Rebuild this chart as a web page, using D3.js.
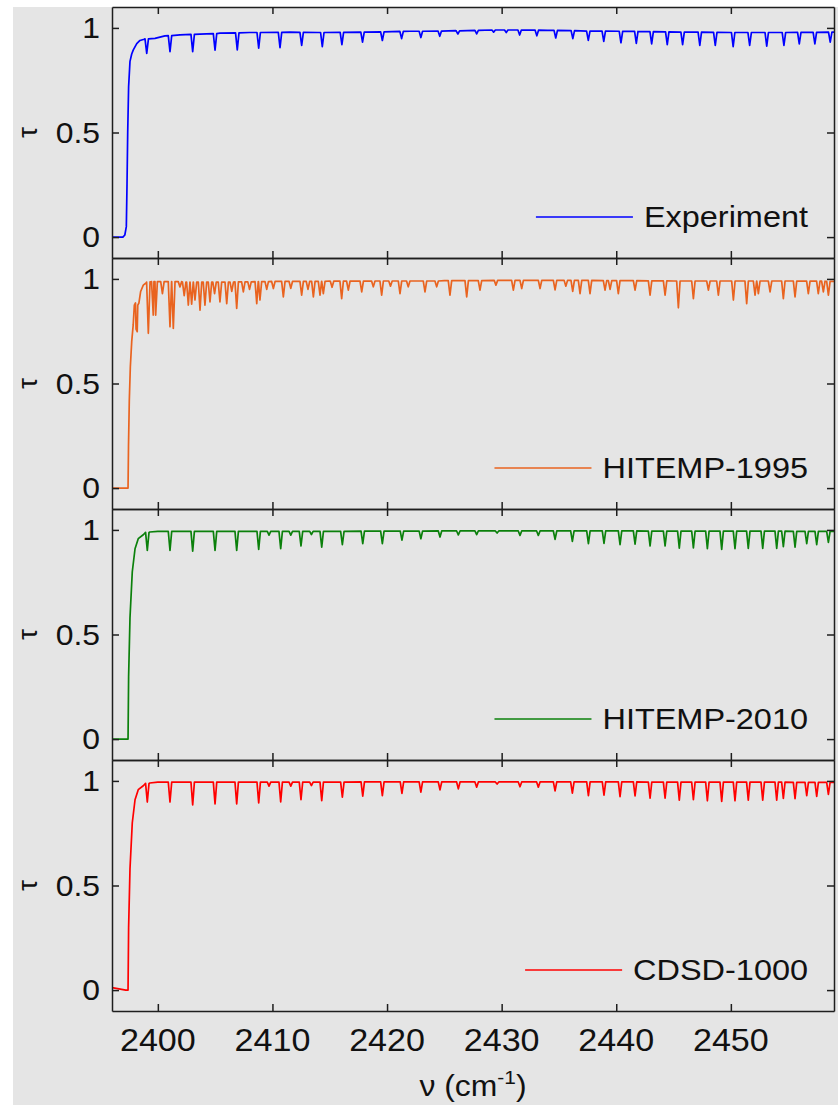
<!DOCTYPE html>
<html>
<head>
<meta charset="utf-8">
<script src="https://cdn.jsdelivr.net/npm/d3@7"></script>
<style>
  body { margin: 0; background: #ffffff; }
  svg { display: block; }
  text { font-family: "Liberation Sans", Arial, Helvetica, sans-serif; fill: #111111; }
</style>
</head>
<body>
<svg id="chart" width="838" height="1105"></svg>
<script>
// ---- axis ticks -------------------------------------------------------
const nuTicks = [2400, 2410, 2420, 2430, 2440, 2450];
const tauTicks = [0, 0.5, 1];
const tauTickLabels = ["0", "0.5", "1"];

// ---- spectra: smooth envelope [nu, tau] and absorption lines [nu, shoulder tau, minimum tau]
const experimentEnvelope = [
  [2396.0, 0.0], [2396.95, 0.0], [2397.12, 0.01], [2397.25, 0.05], [2397.31, 0.25],
  [2397.37, 0.5], [2397.45, 0.72], [2397.57, 0.84], [2397.72, 0.875], [2397.86, 0.895],
  [2398.16, 0.925], [2398.44, 0.94], [2398.8, 0.946], [2399.75, 0.95], [2400.62, 0.962],
  [2401.93, 0.967], [2403.68, 0.97], [2405.42, 0.975], [2408.0, 0.978], [2411.53, 0.98],
  [2414.0, 0.978], [2418.0, 0.98], [2422.0, 0.984], [2426.0, 0.987], [2430.0, 0.99],
  [2434.0, 0.988], [2438.0, 0.985], [2442.0, 0.982], [2446.0, 0.98], [2450.0, 0.978],
  [2454.0, 0.978], [2459.0, 0.98]
];
const experimentLines = [
  [2399.03, 0.948, 0.878], [2401.06, 0.963, 0.886], [2403.04, 0.969, 0.887],
  [2404.99, 0.973, 0.894], [2406.93, 0.976, 0.895], [2408.80, 0.978, 0.903],
  [2410.66, 0.979, 0.906], [2412.55, 0.979, 0.916], [2414.35, 0.978, 0.911],
  [2416.06, 0.979, 0.920], [2417.86, 0.980, 0.932], [2419.59, 0.981, 0.940],
  [2421.27, 0.983, 0.949], [2422.95, 0.984, 0.954], [2424.60, 0.985, 0.960],
  [2426.18, 0.986, 0.971], [2427.82, 0.988, 0.972], [2429.30, 0.990, 0.980],
  [2430.40, 0.990, 0.978], [2431.57, 0.990, 0.966], [2433.07, 0.989, 0.962],
  [2434.72, 0.988, 0.952], [2436.21, 0.987, 0.949], [2437.56, 0.985, 0.940],
  [2438.91, 0.985, 0.936], [2440.41, 0.984, 0.929], [2441.75, 0.983, 0.926],
  [2443.09, 0.982, 0.924], [2444.45, 0.981, 0.920], [2445.79, 0.980, 0.920],
  [2447.29, 0.980, 0.916], [2448.64, 0.979, 0.916], [2450.20, 0.978, 0.911],
  [2451.64, 0.978, 0.916], [2453.13, 0.978, 0.913], [2454.63, 0.978, 0.916],
  [2455.97, 0.979, 0.924], [2457.33, 0.979, 0.924], [2458.67, 0.980, 0.932]
];

const hitemp1995Envelope = [
  [2396.0, 0.0], [2397.40, 0.0], [2397.44, 0.2], [2397.51, 0.42], [2397.60, 0.58],
  [2397.72, 0.70], [2397.85, 0.78], [2398.01, 0.86], [2398.29, 0.906], [2398.50, 0.94],
  [2398.73, 0.97], [2399.0, 0.982], [2399.32, 0.986], [2400.5, 0.987], [2403.0, 0.985],
  [2406.0, 0.985], [2410.0, 0.988], [2415.0, 0.99], [2420.0, 0.99], [2425.0, 0.992],
  [2430.0, 0.993], [2435.0, 0.993], [2440.0, 0.992], [2445.0, 0.99], [2450.0, 0.99],
  [2455.0, 0.99], [2459.0, 0.988]
];
const hitemp1995Lines = [
  [2398.10, 0.875, 0.760], [2398.20, 0.885, 0.748], [2399.17, 0.985, 0.740],
  [2399.60, 0.987, 0.827], [2399.81, 0.987, 0.827], [2400.40, 0.987, 0.930],
  [2401.06, 0.987, 0.771], [2401.35, 0.987, 0.763], [2401.93, 0.987, 0.962],
  [2402.30, 0.985, 0.920], [2402.66, 0.985, 0.875], [2402.95, 0.985, 0.879],
  [2403.24, 0.985, 0.899], [2403.68, 0.985, 0.851], [2404.11, 0.985, 0.875],
  [2404.55, 0.985, 0.890], [2404.95, 0.985, 0.930], [2405.42, 0.985, 0.890],
  [2406.01, 0.985, 0.882], [2406.45, 0.985, 0.940], [2406.88, 0.986, 0.859],
  [2407.46, 0.986, 0.938], [2408.00, 0.986, 0.950], [2408.63, 0.987, 0.882],
  [2408.91, 0.987, 0.899], [2409.50, 0.987, 0.950], [2410.08, 0.988, 0.954],
  [2410.95, 0.988, 0.914], [2411.60, 0.988, 0.955], [2412.55, 0.988, 0.922],
  [2413.10, 0.988, 0.950], [2413.57, 0.988, 0.914], [2414.15, 0.988, 0.922],
  [2414.44, 0.988, 0.930], [2415.20, 0.989, 0.960], [2416.04, 0.989, 0.906],
  [2416.62, 0.989, 0.946], [2417.79, 0.989, 0.938], [2418.80, 0.990, 0.962],
  [2419.53, 0.990, 0.922], [2420.30, 0.990, 0.965], [2421.13, 0.990, 0.930],
  [2421.85, 0.990, 0.962], [2423.31, 0.990, 0.938], [2424.33, 0.990, 0.962],
  [2425.49, 0.992, 0.922], [2426.95, 0.992, 0.914], [2428.11, 0.992, 0.946],
  [2429.50, 0.993, 0.970], [2431.02, 0.993, 0.946], [2431.75, 0.993, 0.954],
  [2433.35, 0.993, 0.954], [2434.66, 0.993, 0.948], [2435.60, 0.993, 0.965],
  [2436.20, 0.993, 0.940], [2436.84, 0.993, 0.930], [2437.71, 0.993, 0.930],
  [2439.02, 0.992, 0.946], [2439.46, 0.992, 0.950], [2440.18, 0.992, 0.930],
  [2441.64, 0.992, 0.946], [2442.95, 0.991, 0.922], [2444.26, 0.991, 0.922],
  [2445.42, 0.990, 0.862], [2446.73, 0.990, 0.906], [2448.04, 0.990, 0.946],
  [2448.91, 0.990, 0.922], [2450.22, 0.990, 0.899], [2451.38, 0.990, 0.882],
  [2452.11, 0.990, 0.922], [2452.40, 0.990, 0.930], [2453.42, 0.990, 0.938],
  [2454.58, 0.990, 0.906], [2455.60, 0.990, 0.914], [2456.76, 0.989, 0.930],
  [2457.63, 0.989, 0.930], [2458.07, 0.989, 0.938], [2458.51, 0.988, 0.922]
];

const hitemp2010Envelope = [
  [2396.0, 0.0], [2397.40, 0.0], [2397.45, 0.3], [2397.57, 0.58], [2397.77, 0.8],
  [2398.01, 0.91], [2398.29, 0.958], [2398.73, 0.977], [2399.3, 0.99], [2400.0, 0.993],
  [2410.0, 0.993], [2420.0, 0.994], [2428.0, 0.995], [2435.0, 0.995], [2445.0, 0.994],
  [2459.0, 0.993]
];
const hitemp2010Lines = [
  [2399.08, 0.988, 0.902], [2401.06, 0.993, 0.902], [2403.04, 0.993, 0.898],
  [2404.99, 0.993, 0.902], [2406.88, 0.993, 0.902], [2408.80, 0.993, 0.907],
  [2409.70, 0.993, 0.975], [2410.72, 0.993, 0.910], [2411.60, 0.993, 0.975],
  [2412.49, 0.993, 0.923], [2413.40, 0.993, 0.978], [2414.30, 0.993, 0.918],
  [2416.10, 0.993, 0.930], [2417.88, 0.994, 0.934], [2419.59, 0.994, 0.934],
  [2421.30, 0.994, 0.951], [2422.95, 0.994, 0.958], [2424.62, 0.995, 0.966],
  [2426.22, 0.995, 0.976], [2427.82, 0.995, 0.978], [2429.60, 0.995, 0.985],
  [2431.60, 0.995, 0.974], [2433.20, 0.995, 0.974], [2434.66, 0.995, 0.955],
  [2436.17, 0.995, 0.945], [2437.57, 0.995, 0.934], [2438.93, 0.995, 0.936],
  [2440.33, 0.995, 0.930], [2441.64, 0.995, 0.932], [2442.95, 0.994, 0.923],
  [2444.26, 0.994, 0.923], [2445.50, 0.994, 0.913], [2446.73, 0.994, 0.914],
  [2447.95, 0.994, 0.910], [2449.20, 0.994, 0.907], [2450.36, 0.994, 0.910],
  [2451.52, 0.994, 0.912], [2452.78, 0.994, 0.912], [2454.00, 0.994, 0.912],
  [2454.58, 0.994, 0.920], [2455.60, 0.993, 0.918], [2456.62, 0.993, 0.934],
  [2457.49, 0.993, 0.930], [2458.51, 0.993, 0.940]
];

const cdsd1000Envelope = [
  [2396.0, 0.012], [2397.20, 0.0], [2397.40, 0.0], [2397.45, 0.3], [2397.57, 0.58],
  [2397.77, 0.8], [2398.01, 0.91], [2398.29, 0.958], [2398.73, 0.977], [2399.3, 0.99],
  [2400.0, 0.994], [2410.0, 0.994], [2420.0, 0.995], [2428.0, 0.995], [2435.0, 0.995],
  [2445.0, 0.994], [2459.0, 0.993]
];
const cdsd1000Lines = [
  [2399.08, 0.988, 0.899], [2401.06, 0.994, 0.899], [2403.04, 0.994, 0.885],
  [2404.99, 0.994, 0.890], [2406.88, 0.994, 0.890], [2408.80, 0.994, 0.895],
  [2409.70, 0.994, 0.975], [2410.72, 0.994, 0.900], [2411.60, 0.994, 0.975],
  [2412.49, 0.994, 0.910], [2413.40, 0.994, 0.978], [2414.30, 0.994, 0.906],
  [2416.10, 0.994, 0.922], [2417.88, 0.995, 0.927], [2419.59, 0.995, 0.930],
  [2421.30, 0.995, 0.940], [2422.95, 0.995, 0.946], [2424.62, 0.995, 0.957],
  [2426.22, 0.995, 0.962], [2427.82, 0.995, 0.970], [2429.60, 0.995, 0.985],
  [2431.60, 0.995, 0.972], [2433.20, 0.995, 0.970], [2434.66, 0.995, 0.952],
  [2436.17, 0.995, 0.942], [2437.57, 0.995, 0.930], [2438.93, 0.995, 0.932],
  [2440.33, 0.995, 0.925], [2441.64, 0.995, 0.928], [2442.95, 0.994, 0.918],
  [2444.26, 0.994, 0.918], [2445.50, 0.994, 0.908], [2446.73, 0.994, 0.910],
  [2447.95, 0.994, 0.905], [2449.20, 0.994, 0.902], [2450.36, 0.994, 0.905],
  [2451.52, 0.994, 0.908], [2452.78, 0.994, 0.908], [2454.00, 0.994, 0.908],
  [2454.58, 0.994, 0.916], [2455.60, 0.993, 0.915], [2456.62, 0.993, 0.930],
  [2457.49, 0.993, 0.926], [2458.51, 0.993, 0.936]
];

const seriesNames = ["Experiment", "HITEMP-1995", "HITEMP-2010", "CDSD-1000"];
const seriesColors = ["#0000ff", "#e9631f", "#0b800b", "#ff0000"];
const seriesEnvelopes = [experimentEnvelope, hitemp1995Envelope, hitemp2010Envelope, cdsd1000Envelope];
const seriesLines = [experimentLines, hitemp1995Lines, hitemp2010Lines, cdsd1000Lines];

// ---- layout -----------------------------------------------------------
const W = 838, H = 1105;
const plotLeft = 112, plotRight = 834;
const firstTop = 7, panelH = 251;
const tickLen = 7;
const axisColor = "#1e1e1e";
const lineHalfWidth = 0.15;   // half width of a drawn absorption line, in cm-1
const textStretch = 1.1;      // horizontal stretch of all lettering

const svg = d3.select("#chart");

svg.append("rect")
  .attr("x", 13).attr("y", firstTop)
  .attr("width", W - 13).attr("height", H - firstTop)
  .attr("fill", "#e5e5e5");

const x = d3.scaleLinear().domain([2396, 2459]).range([plotLeft, plotRight]);

function stretchedText(parent, tx, ty, str, size, anchor) {
  return parent.append("text")
    .attr("transform", `translate(${tx},${ty}) scale(${textStretch},1)`)
    .attr("text-anchor", anchor)
    .attr("font-size", size)
    .text(str);
}

// merge envelope points with V-shaped absorption lines into one ordered trace
function buildTrace(envelope, lines) {
  const pts = envelope.filter(p => !lines.some(l => Math.abs(p[0] - l[0]) < lineHalfWidth));
  lines.forEach(l => {
    pts.push([l[0] - lineHalfWidth, l[1]], [l[0], l[2]], [l[0] + lineHalfWidth, l[1]]);
  });
  return pts.sort((a, b) => a[0] - b[0]);
}

const defs = svg.append("defs");

seriesNames.forEach((name, i) => {
  const top = firstTop + i * panelH;
  const bottom = top + panelH;
  const y = d3.scaleLinear().domain([-0.1, 1.1]).range([bottom, top]);
  const g = svg.append("g").attr("class", "panel");

  defs.append("clipPath").attr("id", "clip" + i)
    .append("rect").attr("x", plotLeft).attr("y", top)
    .attr("width", plotRight - plotLeft).attr("height", panelH);

  // spectrum
  const trace = buildTrace(seriesEnvelopes[i], seriesLines[i]);
  g.append("path")
    .datum(trace)
    .attr("clip-path", `url(#clip${i})`)
    .attr("fill", "none")
    .attr("stroke", seriesColors[i])
    .attr("stroke-width", 1.7)
    .attr("stroke-linejoin", "round")
    .attr("d", d3.line().x(d => x(d[0])).y(d => y(d[1])));

  // axes with inward ticks on all four sides
  [
    { axis: d3.axisTop(x), pos: `translate(0,${top})` },
    { axis: d3.axisBottom(x), pos: `translate(0,${bottom})` }
  ].forEach(a => {
    g.append("g").attr("transform", a.pos)
      .call(a.axis.tickValues(nuTicks).tickSize(-tickLen).tickSizeOuter(0).tickFormat(""))
      .call(s => s.select(".domain").attr("stroke", axisColor).attr("stroke-width", 1.5))
      .call(s => s.selectAll(".tick line").attr("stroke", axisColor).attr("stroke-width", 1.5));
  });
  [
    { axis: d3.axisLeft(y), pos: `translate(${plotLeft},0)` },
    { axis: d3.axisRight(y), pos: `translate(${plotRight},0)` }
  ].forEach(a => {
    g.append("g").attr("transform", a.pos)
      .call(a.axis.tickValues(tauTicks).tickSize(-tickLen).tickSizeOuter(0).tickFormat(""))
      .call(s => s.select(".domain").attr("stroke", axisColor).attr("stroke-width", 1.5))
      .call(s => s.selectAll(".tick line").attr("stroke", axisColor).attr("stroke-width", 1.5));
  });

  // tau tick labels
  tauTicks.forEach((t, k) => {
    stretchedText(g, plotLeft - 12, y(t) + 10, tauTickLabels[k], 29, "end");
  });

  // tau axis title
  g.append("text")
    .attr("transform", `translate(37,${y(0.5)}) rotate(-90)`)
    .attr("text-anchor", "middle")
    .attr("font-size", 28)
    .text("τ");

  // legend entry
  const legendText = stretchedText(g, 808, bottom - 31, name, 29.5, "end");
  const textW = legendText.node().getComputedTextLength() * textStretch;
  const lineEnd = 808 - textW - 11;
  g.append("line")
    .attr("x1", lineEnd - 97).attr("x2", lineEnd)
    .attr("y1", bottom - 41).attr("y2", bottom - 41)
    .attr("stroke", seriesColors[i]).attr("stroke-width", 1.7);
});

// wavenumber tick labels under the last panel
const axisBottomY = firstTop + 4 * panelH;
nuTicks.forEach(t => {
  stretchedText(svg, x(t), axisBottomY + 40, String(t), 31, "middle");
});

// wavenumber axis title
const xt = svg.append("text")
  .attr("transform", `translate(${(plotLeft + plotRight) / 2},${axisBottomY + 85}) scale(${textStretch},1)`)
  .attr("text-anchor", "middle")
  .attr("font-size", 29);
xt.append("tspan").text("ν (cm");
xt.append("tspan").attr("font-size", 19).attr("dy", -12).text("-1");
xt.append("tspan").attr("dy", 12).text(")");
</script>
</body>
</html>
